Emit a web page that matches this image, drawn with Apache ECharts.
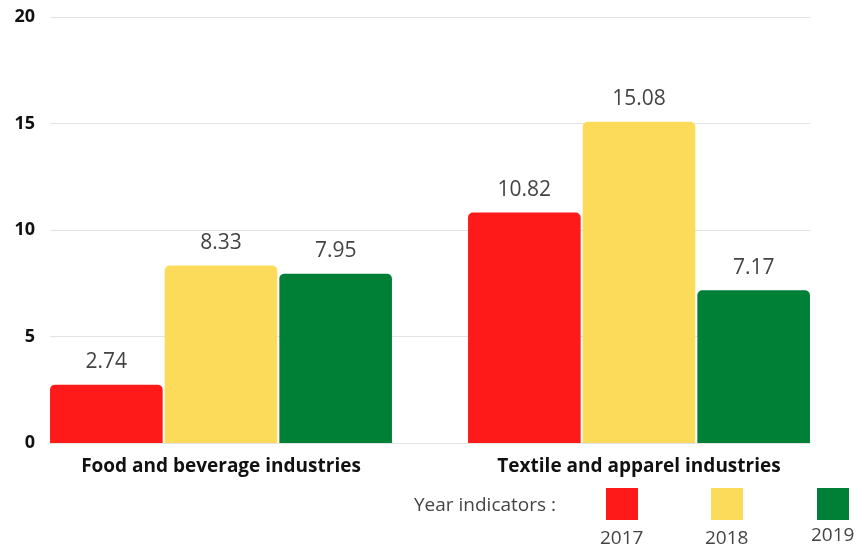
<!DOCTYPE html>
<html>
<head>
<meta charset="utf-8">
<script src="https://cdn.jsdelivr.net/npm/echarts@6/dist/echarts.min.js"></script>
<style>
  html, body { margin: 0; padding: 0; background: #fff; }
  #chart { width: 859px; height: 550px; }
</style>
</head>
<body>
<div id="chart"></div>
<script>
const industries = ['Food and beverage industries', 'Textile and apparel industries'];
const years = ['2017', '2018', '2019'];
const yearColors = ['#ff1a1a', '#fddb5a', '#008037'];
const values2017 = [2.74, 10.82];
const values2018 = [8.33, 15.08];
const values2019 = [7.95, 7.17];
const yTicks = [0, 5, 10, 15, 20];

const chartDom = document.getElementById('chart');
const myChart = echarts.init(chartDom);
const font = '"Open Sans", "Noto Sans", sans-serif';
const allValues = [values2017, values2018, values2019];

// legend squares + year labels below them
const legendLeft = [606, 711, 817];
let legendGraphics = [
  {
    type: 'text', left: 414, top: 496,
    style: { text: 'Year indicators :', font: '19px ' + font, fill: '#444' }
  }
];
years.forEach((year, i) => {
  legendGraphics.push({
    type: 'rect', left: legendLeft[i], top: 488,
    shape: { width: 32, height: 32 },
    style: { fill: yearColors[i] }
  });
  legendGraphics.push({
    type: 'text', left: legendLeft[i] - 6, top: i === 2 ? 526 : 529,
    style: { text: year, font: '19px ' + font, fill: '#444' }
  });
});

let option = {
  animation: false,
  grid: [
    { left: 50, right: 49, top: 17, bottom: 107 },
    { left: 12, right: 11, top: 17, bottom: 107 }
  ],
  xAxis: [
    { gridIndex: 0, type: 'value', min: 0, max: 1, show: false },
    {
      gridIndex: 1,
      type: 'category',
      data: industries,
      axisLine: { show: false },
      axisTick: { show: false },
      axisLabel: {
        margin: 14,
        color: '#111',
        fontWeight: 'bold',
        fontSize: 19,
        fontFamily: font
      }
    }
  ],
  yAxis: [
    {
      gridIndex: 0,
      type: 'value',
      min: yTicks[0],
      max: yTicks[yTicks.length - 1],
      interval: 5,
      axisLine: { show: false },
      axisTick: { show: false },
      splitLine: { lineStyle: { color: '#e3e3e3', width: 1 } },
      axisLabel: {
        margin: 15,
        color: '#111',
        fontWeight: 'bold',
        fontSize: 18,
        fontFamily: font
      }
    },
    {
      gridIndex: 1,
      type: 'value',
      min: yTicks[0],
      max: yTicks[yTicks.length - 1],
      show: false
    }
  ],
  series: years.map((year, i) => ({
    name: year,
    type: 'bar',
    xAxisIndex: 1,
    yAxisIndex: 1,
    data: allValues[i],
    barGap: '1.8%',
    barCategoryGap: '18.2%',
    itemStyle: { color: yearColors[i], borderRadius: [5, 5, 0, 0] },
    label: {
      show: true,
      position: 'top',
      distance: 12,
      color: '#444',
      fontSize: 21,
      fontFamily: font
    }
  })),
  graphic: legendGraphics
};

option && myChart.setOption(option);
</script>
</body>
</html>
